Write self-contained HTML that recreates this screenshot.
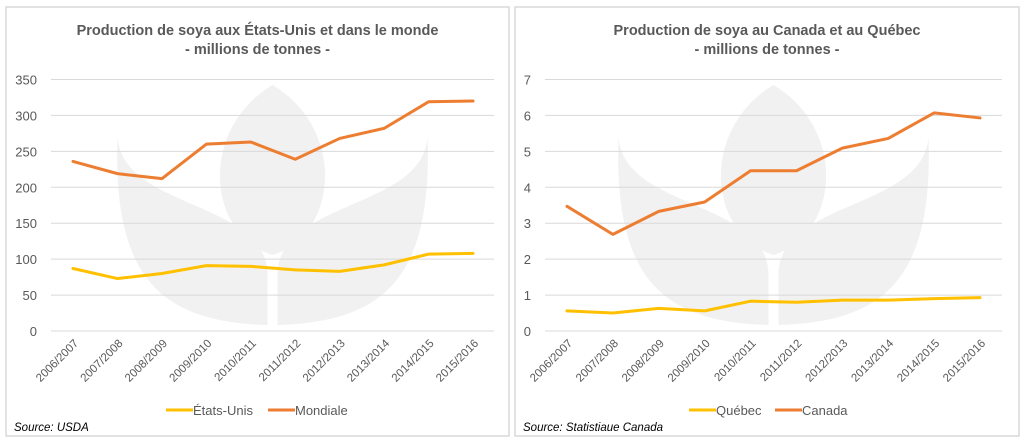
<!DOCTYPE html>
<html><head><meta charset="utf-8"><style>
html,body{margin:0;padding:0;background:#fff;width:1024px;height:442px;overflow:hidden}
svg{display:block;font-family:"Liberation Sans",sans-serif}
</style></head><body>
<svg id="s" width="1024" height="442"></svg>
<script>
const categories=["2006/2007","2007/2008","2008/2009","2009/2010","2010/2011","2011/2012","2012/2013","2013/2014","2014/2015","2015/2016"];
const mondiale=[236,219,212,260,263,239,268,282,319,320];
const etatsUnis=[87,73,80,91,90,85,83,92,107,108];
const canada=[3.47,2.69,3.33,3.59,4.46,4.46,5.09,5.36,6.07,5.93];
const quebec=[0.56,0.50,0.63,0.56,0.83,0.80,0.86,0.86,0.90,0.93];
const leftTicks=[0,50,100,150,200,250,300,350];
const rightTicks=[0,1,2,3,4,5,6,7];
const NS="http://www.w3.org/2000/svg";
const svg=document.getElementById('s');
function mk(t,a,p){const e=document.createElementNS(NS,t);for(const k in a)e.setAttribute(k,a[k]);(p||svg).appendChild(e);return e;}
function chart(o){
  const g=mk('g',{});
  
  
  const fr=mk('rect',{x:o.px,y:7,width:o.pw,height:429,fill:'#fff',stroke:'#d9d9d9','stroke-width':1.5},g);
  
  
  const cx=(o.gx0+o.gx1)/2;
  const wm=mk('g',{fill:'#f1f1f1'},g);
  
  
  mk('path',{d:`M${cx} 85 C${cx+75} 130 ${cx+65} 235 ${cx} 255 C${cx-65} 235 ${cx-75} 130 ${cx} 85Z`},wm);
  mk('path',{d:`M${cx-155} 137 C${cx-150} 210 ${cx-5} 200 ${cx-5} 275 L${cx-5} 325 C${cx-110} 322 ${cx-160} 280 ${cx-155} 137Z`},wm);
  mk('path',{d:`M${cx+155} 137 C${cx+150} 210 ${cx+5} 200 ${cx+5} 275 L${cx+5} 325 C${cx+110} 322 ${cx+160} 280 ${cx+155} 137Z`},wm);
  const t1=mk('text',{x:o.px+o.pw/2,y:35,'text-anchor':'middle','font-size':14.5,'font-weight':'bold',fill:'#595959'},g);
  t1.textContent=o.title1;
  
  
  const t2=mk('text',{x:o.px+o.pw/2,y:54,'text-anchor':'middle','font-size':14.5,'font-weight':'bold',fill:'#595959'},g);
  t2.textContent="- millions de tonnes -";
  
  
  const y0=331,y1=79.5,max=o.ticks[o.ticks.length-1];
  const Y=v=>y0-(v/max)*(y0-y1);
  const X=i=>o.fx+i*(o.lx-o.fx)/(categories.length-1);
  o.ticks.forEach(t=>{
    const l=mk('line',{x1:o.gx0,x2:o.gx1,y1:Y(t),y2:Y(t),stroke:'#d9d9d9','stroke-width':1},g);
    
    
    const tx=mk('text',{x:o.gx0-14,y:Y(t)+5,'text-anchor':'end','font-size':13,fill:'#595959'},g);
    tx.textContent=t;
    
    
  });
  categories.forEach((c,i)=>{
    const tx=mk('text',{x:X(i)+6,y:344,'text-anchor':'end','font-size':11.5,fill:'#595959',transform:`rotate(-45 ${X(i)+6} 344)`},g);
    tx.textContent=c;
    
    
  });
  o.series.forEach(s=>{
    const p=mk('polyline',{points:s.v.map((v,i)=>X(i)+','+Y(v)).join(' '),fill:'none',stroke:s.c,'stroke-width':3,'stroke-linejoin':'round','stroke-linecap':'round'},g);
    
    
  });
  let lx=o.legX;
  o.series.forEach(s=>{
    const lg=mk('g',{},g);
    
    
    mk('line',{x1:lx,x2:lx+27,y1:410,y2:410,stroke:s.c,'stroke-width':3},lg);
    const tx=mk('text',{x:lx+27,y:415,'font-size':13,fill:'#595959'},lg);
    tx.textContent=s.label;
    lx+=s.w;
  });
  const src=mk('text',{x:o.px+8,y:431,'font-size':11.5,'font-style':'italic',fill:'#000'},g);
  src.textContent=o.source;
  
  
}
chart({name:'us-world-chart',px:6,pw:503,gx0:51,gx1:494,fx:73,lx:473,ticks:leftTicks,
  title1:"Production de soya aux États-Unis et dans le monde",source:"Source: USDA",legX:166,
  series:[{id:'etats-unis',label:'États-Unis',v:etatsUnis,c:'#ffc000',w:102},{id:'mondiale',label:'Mondiale',v:mondiale,c:'#ed7d31',w:100}]});
chart({name:'canada-quebec-chart',px:515,pw:504,gx0:545,gx1:1002,fx:567,lx:980,ticks:rightTicks,
  title1:"Production de soya au Canada et au Québec",source:"Source: Statistiaue Canada",legX:689,
  series:[{id:'quebec',label:'Québec',v:quebec,c:'#ffc000',w:86},{id:'canada',label:'Canada',v:canada,c:'#ed7d31',w:90}]});
</script>
</body></html>
